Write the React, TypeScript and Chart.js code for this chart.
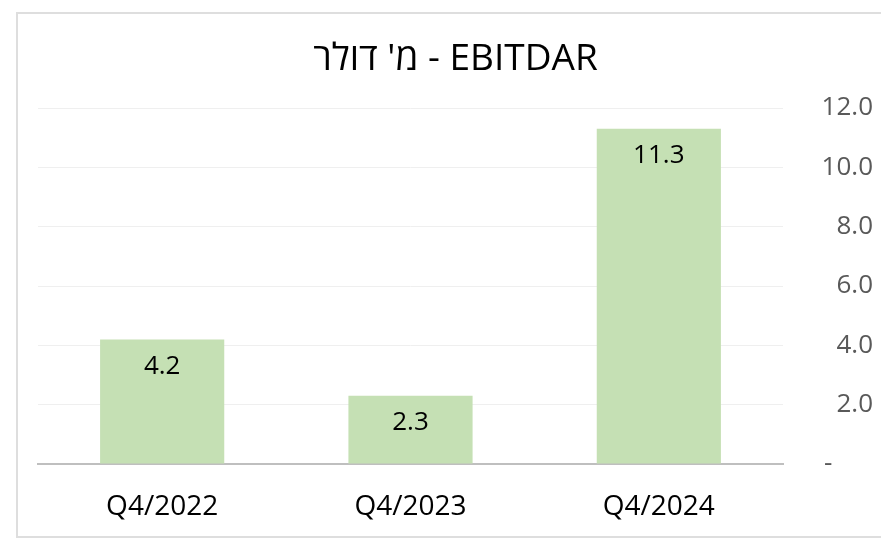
import React, { useEffect, useRef } from "react";
import { Chart, registerables } from "chart.js";

Chart.register(...registerables);

const categories = ["Q4/2022", "Q4/2023", "Q4/2024"];
const ebitdarValues = [4.2, 2.3, 11.3];
const chartTitle = "מ' דולר - EBITDAR";

const FONT = "'Open Sans', 'DejaVu Sans', sans-serif";

const dataLabelPlugin = {
  id: "dataLabels",
  afterDatasetsDraw(chart: any) {
    const ctx = chart.ctx;
    const meta = chart.getDatasetMeta(0);
    ctx.save();
    ctx.font = `26px ${FONT}`;
    ctx.fillStyle = "#000000";
    ctx.textAlign = "center";
    ctx.textBaseline = "middle";
    meta.data.forEach((bar: any, i: number) => {
      const v = chart.data.datasets[0].data[i];
      ctx.fillText(Number(v).toFixed(1), bar.x, bar.y + 27);
    });
    ctx.restore();
  },
};

export default function App() {
  const ref = useRef<HTMLCanvasElement | null>(null);
  useEffect(() => {
    if (!ref.current) return;
    const chart = new Chart(ref.current, {
      type: "bar",
      data: {
        labels: categories,
        datasets: [
          {
            data: ebitdarValues,
            backgroundColor: "#c5e0b4",
            categoryPercentage: 1,
            barPercentage: 0.5,
          },
        ],
      },
      options: {
        animation: false,
        responsive: false,
        maintainAspectRatio: false,
        layout: { padding: { left: 38, right: 8, top: 0, bottom: 0 } },
        plugins: {
          legend: { display: false },
          tooltip: { enabled: false },
          title: {
            display: true,
            text: chartTitle,
            color: "#000000",
            font: { family: FONT, size: 37, weight: "normal", lineHeight: 1.2 },
            padding: { top: 37, bottom: 26.6 },
          },
        },
        scales: {
          x: {
            grid: { display: false, drawTicks: false },
            border: { display: true, color: "#bfbfbf", width: 2 },
            ticks: {
              color: "#000000",
              font: { family: FONT, size: 28 },
              padding: 26,
            },
            afterFit: (s: any) => {
              s.height = 75;
            },
          },
          y: {
            position: "right",
            min: 0,
            max: 12,
            grid: {
              color: "#efefef",
              lineWidth: 1,
              drawTicks: false,
            },
            border: { display: false },
            ticks: {
              stepSize: 2,
              color: "#595959",
              font: { family: FONT, size: 26 },
              padding: 20,
              crossAlign: "far",
              callback: (v: any) => (Number(v) === 0 ? "-      " : Number(v).toFixed(1)),
            },
            afterFit: (s: any) => {
              s.width = 90;
            },
          },
        },
      },
      plugins: [dataLabelPlugin],
    });
    return () => chart.destroy();
  }, []);

  return (
    <div style={{ position: "fixed", left: 0, top: 0, width: 881, height: 539, background: "#ffffff" }}>
      <div
        style={{
          position: "absolute",
          left: 16,
          top: 12,
          width: 900,
          height: 526,
          boxSizing: "border-box",
          border: "2px solid #dedede",
        }}
      />
      <canvas ref={ref} width={881} height={539} style={{ position: "absolute", left: 0, top: 0 }} />
    </div>
  );
}
